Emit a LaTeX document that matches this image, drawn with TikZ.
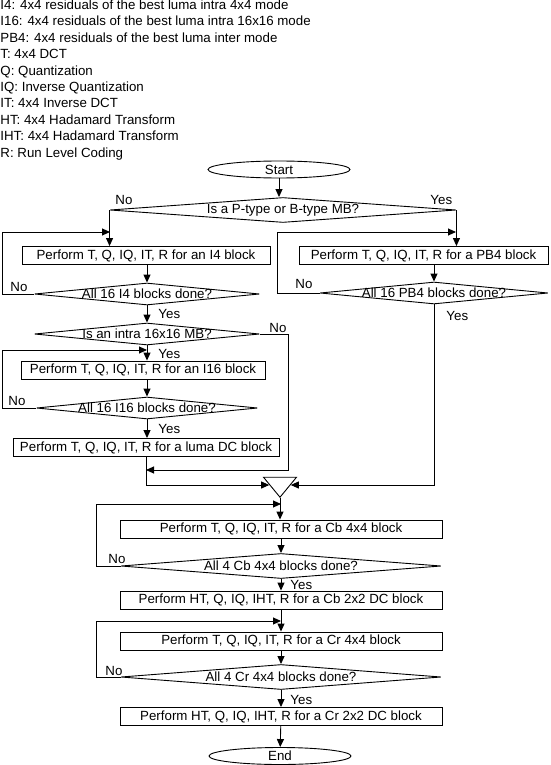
\documentclass[tikz,border=0pt]{standalone}
\usepackage{fontspec}
\setmainfont{Liberation Sans}
\usetikzlibrary{shapes.geometric,arrows.meta}

\tikzset{
  procbox/.style={draw, rectangle, minimum height=18pt, inner sep=0pt},
  decision/.style={draw, diamond, inner sep=0pt},
  terminal/.style={draw, ellipse, inner sep=0pt, minimum width=142pt, minimum height=17pt},
  merger/.style={draw, isosceles triangle, isosceles triangle stretches, shape border rotate=-90,
    inner sep=0pt, minimum width=33pt, minimum height=20pt},
  flow/.style={-{Triangle[length=8pt,width=7pt]}},
  tag/.style={anchor=base west, inner sep=0pt},
}

\begin{document}
\begin{tikzpicture}[x=1pt, y=-1pt, line width=0.9pt, font=\fontsize{13.3}{16}\selectfont]
    \useasboundingbox (0,0) rectangle (550,765);

    % Legend
    \foreach \txt [count=\i from 0] in {I4: 4x4 residuals of the best luma intra 4x4 mode,
        I16: 4x4 residuals of the best luma intra 16x16 mode,
        PB4: 4x4 residuals of the best luma inter mode,
        T: 4x4 DCT, Q: Quantization, IQ: Inverse Quantization, IT: 4x4 Inverse DCT,
        HT: 4x4 Hadamard Transform, IHT: 4x4 Hadamard Transform, R: Run Level Coding} {
        \node[tag] at (0,9.5+16.4*\i) {\txt};
    }

    % Start and MB type
    \node[terminal] (start) at (279,169.5) {Start};
    \node[decision, minimum width=346pt, minimum height=25pt,
        label=center:{Is a P-type or B-type MB?}] (mbtype) at (283,210) {};

    % Luma 4x4 blocks
    \node[procbox, minimum width=248pt] (i4box) at (146,255.5) {Perform T, Q, IQ, IT, R for an I4 block};
    \node[procbox, minimum width=249pt] (pb4box) at (423.5,255.5) {Perform T, Q, IQ, IT, R for a PB4 block};
    \node[decision, minimum width=225pt, minimum height=22pt,
        label=center:{All 16 I4 blocks done?}] (i4done) at (147,294) {};
    \node[decision, minimum width=228pt, minimum height=22pt,
        label=center:{All 16 PB4 blocks done?}] (pb4done) at (434,293) {};

    % Intra 16x16
    \node[decision, minimum width=225pt, minimum height=22pt,
        label=center:{Is an intra 16x16 MB?}] (intra) at (147,334) {};
    \node[procbox, minimum width=244pt] (i16box) at (143,370) {Perform T, Q, IQ, IT, R for an I16 block};
    \node[decision, minimum width=221pt, minimum height=22pt,
        label=center:{All 16 I16 blocks done?}] (i16done) at (147,408) {};
    \node[procbox, minimum width=266pt] (dcbox) at (146,447.5) {Perform T, Q, IQ, IT, R for a luma DC block};
    \node[merger] (merge) at (280,485) {};

    % Chroma
    \node[procbox, minimum width=322pt] (cbbox) at (281,529) {Perform T, Q, IQ, IT, R for a Cb 4x4 block};
    \node[decision, minimum width=320pt, minimum height=25pt,
        label=center:{All 4 Cb 4x4 blocks done?}] (cbdone) at (281,566) {};
    \node[procbox, minimum width=322pt] (cb2box) at (281,600) {Perform HT, Q, IQ, IHT, R for a Cb 2x2 DC block};
    \node[procbox, minimum width=322pt] (crbox) at (281,641) {Perform T, Q, IQ, IT, R for a Cr 4x4 block};
    \node[decision, minimum width=320pt, minimum height=25pt,
        label=center:{All 4 Cr 4x4 blocks done?}] (crdone) at (281,677) {};
    \node[procbox, minimum width=322pt] (cr2box) at (281,716.5) {Perform HT, Q, IQ, IHT, R for a Cr 2x2 DC block};
    \node[terminal] (stop) at (280,756) {End};

    % Loop entry points
    \coordinate (i4in) at (110,232);
    \coordinate (pb4in) at (456,232);
    \coordinate (i16in) at (147,350);
    \coordinate (joinL) at (146,470);
    \coordinate (cbin) at (281,504);
    \coordinate (crin) at (281,621);

    % Connectors
    \draw[flow] (start) -- (start |- mbtype.north);
    \draw[flow] (mbtype.west) -- (mbtype.west |- i4box.north);
    \draw[flow] (mbtype.east) -- (mbtype.east |- pb4box.north);
    \draw[flow] (i4box.south -| i4done) -- (i4done.north);
    \draw[flow] (i4done.west) -- ++(-31.5,0) |- (i4in);
    \draw[flow] (pb4done.north |- pb4box.south) -- (pb4done.north);
    \draw[flow] (pb4done.west) -- ++(-42,0) |- (pb4in);
    \draw[flow] (i4done) -- (intra);
    \draw[flow] (intra) -- (intra |- i16box.north);
    \draw[flow] (i16box.south -| i16done) -- (i16done.north);
    \draw[flow] (i16done.west) -- ++(-33.5,0) |- (i16in);
    \draw[flow] (i16done) -- (i16done |- dcbox.north);
    \draw[flow] (intra.east) -- ++(28.5,0) |- (joinL);
    \draw[flow] (dcbox) |- (merge);
    \draw[flow] (pb4done) |- (merge);
    \draw[flow] (merge.apex) -- (merge.apex |- cbbox.north);
    \draw[flow] (cbbox) -- (cbdone);
    \draw[flow] (cbdone.west) -- ++(-24,0) |- (cbin);
    \draw[flow] (cbdone) -- (cb2box);
    \draw[flow] (cb2box) -- (crbox);
    \draw[flow] (crbox) -- (crdone);
    \draw[flow] (crdone.west) -- ++(-24,0) |- (crin);
    \draw[flow] (crdone) -- (cr2box);
    \draw[flow] (cr2box) -- (stop);

    % Yes / No
    \node[tag] at (115,204) {No};
    \node[tag] at (430,204) {Yes};
    \node[tag] at (10,291) {No};
    \node[tag] at (295,288) {No};
    \node[tag] at (158,318) {Yes};
    \node[tag] at (446,320) {Yes};
    \node[tag] at (269,332) {No};
    \node[tag] at (158,358) {Yes};
    \node[tag] at (8,405) {No};
    \node[tag] at (158,433) {Yes};
    \node[tag] at (108,563) {No};
    \node[tag] at (290,589) {Yes};
    \node[tag] at (105,675) {No};
    \node[tag] at (290,704) {Yes};
\end{tikzpicture}
\end{document}
